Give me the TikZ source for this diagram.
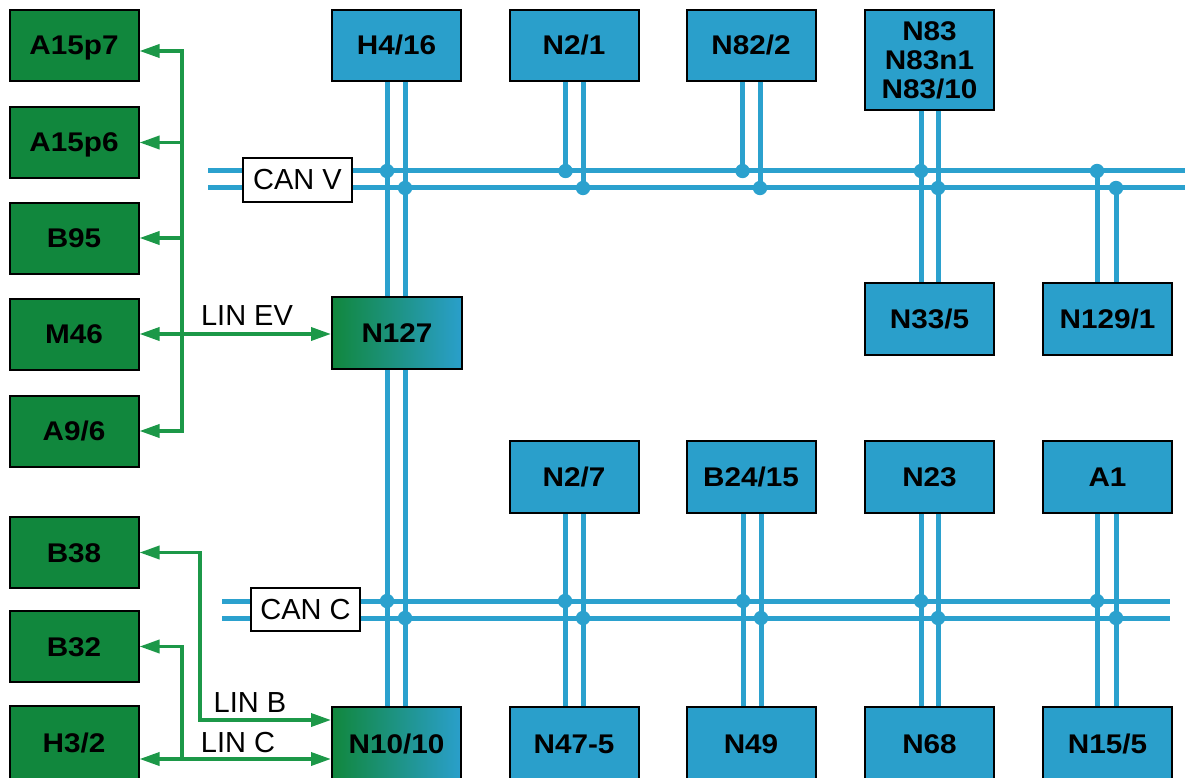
\documentclass[tikz,border=0pt]{standalone}
\usepackage{fontspec}
\setmainfont{Liberation Sans}
\newfontfamily\boxfont{Liberation Sans}[FakeStretch=1.1]
\usetikzlibrary{arrows.meta,calc}
\definecolor{boxgreen}{RGB}{17,135,61}
\definecolor{boxblue}{RGB}{42,159,203}
\definecolor{busblue}{RGB}{43,161,206}
\definecolor{lingreen}{RGB}{28,152,72}
\tikzset{
  boxbase/.style={draw=black, line width=2pt, minimum width=129pt, minimum height=71pt, inner sep=0pt, align=center, text height=19pt, text depth=-3pt, font=\boxfont\bfseries\fontsize{27}{29}\selectfont},
  gbox/.style={boxbase, fill=boxgreen},
  bbox/.style={boxbase, fill=boxblue},
  gradbox/.style={boxbase, left color=boxgreen, right color=boxblue},
  canlabel/.style={draw=black, line width=2pt, fill=white, minimum width=109pt, minimum height=44pt, inner sep=0pt, font=\fontsize{29}{30}\selectfont},
  linlabel/.style={inner sep=0pt, font=\fontsize{29}{30}\selectfont},
  bus/.style={draw=busblue, line width=5pt},
  dot/.style={fill=busblue},
  lin/.style={draw=lingreen, line width=3.5pt, line join=miter},
}
\begin{document}
\begin{tikzpicture}[x=1pt,y=-1pt, >={Triangle[length=20pt,width=13pt]}]
\useasboundingbox (0,0) rectangle (1185,778);

% ---- CAN buses
\coordinate (cvL1) at (208,171); \coordinate (cvR1) at (1190,171);
\coordinate (cvL2) at (208,188); \coordinate (cvR2) at (1190,188);
\coordinate (ccL1) at (222,601); \coordinate (ccR1) at (1170,601);
\coordinate (ccL2) at (222,618); \coordinate (ccR2) at (1170,618);
\draw[bus] (cvL1) -- (cvR1);
\draw[bus] (cvL2) -- (cvR2);
\draw[bus] (ccL1) -- (ccR1);
\draw[bus] (ccL2) -- (ccR2);

% ---- boxes
\path
  (74,45.5)   node[gbox] (a157) {A15p7}
  (74,142.5)  node[gbox] (a156) {A15p6}
  (74,238)    node[gbox] (b95) {B95}
  (74,334)    node[gbox] (m46) {M46}
  (74,431)    node[gbox] (a96) {A9/6}
  (74,552.5)  node[gbox] (b38) {B38}
  (74,646.5)  node[gbox] (b32) {B32}
  (74,742.5)  node[gbox, minimum height=73pt] (h32) {H3/2};
\path
  (396.5,45.5) node[bbox] (h416) {H4/16}
  (574,45.5)   node[bbox] (n21) {N2/1}
  (751,45.5)   node[bbox] (n822) {N82/2}
  (929.5,60)   node[bbox, minimum height=100pt, text height={}, text depth={}] (n83) {N83\\N83n1\\N83/10}
  (929.5,319)  node[bbox, minimum height=72pt] (n335) {N33/5}
  (1107.5,319) node[bbox, minimum height=72pt] (n1291) {N129/1}
  (397,333)    node[gradbox, minimum width=130pt, minimum height=72pt] (n127) {N127}
  (574,477)    node[bbox, minimum height=72pt] (n27) {N2/7}
  (751,477)    node[bbox, minimum height=72pt] (b2415) {B24/15}
  (929.5,477)  node[bbox, minimum height=72pt] (n23) {N23}
  (1107.5,477) node[bbox, minimum height=72pt] (a1) {A1}
  (396.5,743.5) node[gradbox, minimum height=73pt] (n1010) {N10/10}
  (574,743.5)  node[bbox, minimum height=73pt] (n475) {N47-5}
  (751,743.5)  node[bbox, minimum height=73pt] (n49) {N49}
  (929.5,743.5) node[bbox, minimum height=73pt] (n68) {N68}
  (1107.5,743.5) node[bbox, minimum height=73pt] (n155) {N15/5};

% ---- vertical bus taps
% column 1: H4/16 - N127 - N10/10
\coordinate (c1a) at ($(h416.south)+(-9.5,0)$);
\coordinate (c1b) at ($(h416.south)+(8.5,0)$);
\draw[bus] (c1a) -- (c1a |- n127.north);
\draw[bus] (c1b) -- (c1b |- n127.north);
\draw[bus] (c1a |- n127.south) -- (c1a |- n1010.north);
\draw[bus] (c1b |- n127.south) -- (c1b |- n1010.north);
\fill[dot] (c1a |- cvL1) circle (7.2);
\fill[dot] (c1b |- cvL2) circle (7.2);
\fill[dot] (c1a |- ccL1) circle (7.2);
\fill[dot] (c1b |- ccL2) circle (7.2);

% N2/1 and N82/2 taps on CAN V
\foreach \b in {n21,n822}{
  \coordinate (ta) at ($(\b.south)+(-8.5,0)$);
  \coordinate (tb) at ($(\b.south)+(9,0)$);
  \draw[bus] (ta) -- (ta |- cvL1);
  \draw[bus] (tb) -- (tb |- cvL2);
  \fill[dot] (ta |- cvL1) circle (7.2);
  \fill[dot] (tb |- cvL2) circle (7.2);
}
% N83 - N33/5
\coordinate (c4a) at ($(n83.south)+(-8.5,0)$);
\coordinate (c4b) at ($(n83.south)+(8.5,0)$);
\draw[bus] (c4a) -- (c4a |- n335.north);
\draw[bus] (c4b) -- (c4b |- n335.north);
\fill[dot] (c4a |- cvL1) circle (7.2);
\fill[dot] (c4b |- cvL2) circle (7.2);
% N129/1 from CAN V
\coordinate (c5a) at ($(n1291.north)+(-10.5,0)$);
\coordinate (c5b) at ($(n1291.north)+(8.5,0)$);
\draw[bus] (c5a |- cvL1) -- (c5a);
\draw[bus] (c5b |- cvL2) -- (c5b);
\fill[dot] (c5a |- cvL1) circle (7.2);
\fill[dot] (c5b |- cvL2) circle (7.2);

% CAN C columns 2-5
\foreach \t/\u/\oa/\ob in {n27/n475/-9/9, b2415/n49/-8/10, n23/n68/-8.5/8.5, a1/n155/-10.5/8.5}{
  \coordinate (ta) at ($(\t.south)+(\oa,0)$);
  \coordinate (tb) at ($(\t.south)+(\ob,0)$);
  \draw[bus] (ta) -- (ta |- \u.north);
  \draw[bus] (tb) -- (tb |- \u.north);
  \fill[dot] (ta |- ccL1) circle (7.2);
  \fill[dot] (tb |- ccL2) circle (7.2);
}

% ---- CAN labels
\node[canlabel] (canv) at (297.5,180) {CAN V};
\node[canlabel, minimum height=43pt] (canc) at (305.5,609.5) {CAN C};

% ---- LIN EV bus
\coordinate (gtop) at (182,51);
\coordinate (gbot) at (182,431);
\draw[lin,<->] (gtop -| a157.east) -- (gtop) -- (gbot) -- (a96.east);
\draw[lin,->] (a156.east -| gtop) -- (a156.east);
\draw[lin,->] (b95.east -| gtop) -- (b95.east);
\draw[lin,<->] (m46.east) -- (m46.east -| n127.west);
\node[linlabel] (linev) at (247,316) {LIN EV};

% ---- LIN B
\coordinate (lbx) at (200,720);
\draw[lin,<->] (b38.east) -| (lbx) -- (lbx -| n1010.west);
\node[linlabel] (linb) at (250,703) {LIN B};

% ---- LIN C
\coordinate (lcx) at (182,759);
\draw[lin,<-] (b32.east) -| (lcx);
\draw[lin,<->] (lcx -| h32.east) -- (lcx -| n1010.west);
\node[linlabel] (linc) at (238,743) {LIN C};
\end{tikzpicture}
\end{document}
